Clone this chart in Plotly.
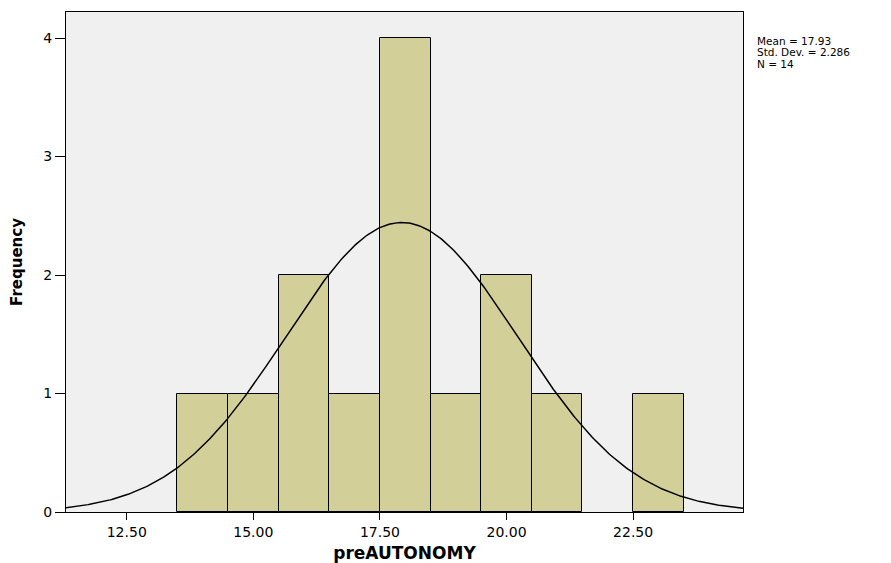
import numpy as np
import plotly.graph_objects as go

# Histogram data (bin centres, width 1)
bin_centers = [14, 15, 16, 17, 18, 19, 20, 21, 23]
frequencies = [1, 1, 2, 1, 4, 1, 2, 1, 1]
bin_width = 1.0

# Summary statistics shown in the chart
mean_val = 17.93
std_val = 2.286
n_val = 14

x_tick_vals = [12.5, 15.0, 17.5, 20.0, 22.5]
x_tick_text = ["12.50", "15.00", "17.50", "20.00", "22.50"]
y_tick_vals = [0, 1, 2, 3, 4]

x_range = [11.3, 24.67]
y_range = [0, 4.22]

# Fitted normal curve (scaled to counts)
xs = np.linspace(x_range[0], x_range[1], 400)
ys = n_val * bin_width * np.exp(-0.5 * ((xs - mean_val) / std_val) ** 2) / (std_val * np.sqrt(2 * np.pi))

fig = go.Figure()
fig.add_trace(go.Bar(
    x=bin_centers, y=frequencies, width=bin_width,
    marker=dict(color="#d3cf99", line=dict(color="black", width=1)),
    hoverinfo="skip", showlegend=False,
))
fig.add_trace(go.Scatter(
    x=xs, y=ys, mode="lines", line=dict(color="black", width=1.5),
    hoverinfo="skip", showlegend=False,
))

font_family = "DejaVu Sans, Arial, sans-serif"

# page body has an 8px default margin, so the figure is sized to fit inside it
fig.update_layout(
    width=883, height=555,
    margin=dict(l=58, r=148, t=4, b=51),
    paper_bgcolor="white", plot_bgcolor="#f0f0f0",
    bargap=0,
    font=dict(family=font_family, color="black", size=13),
    xaxis=dict(
        range=x_range, tickvals=x_tick_vals, ticktext=x_tick_text,
        showgrid=False, zeroline=False, showline=True, linecolor="black", linewidth=1,
        mirror=True, ticks="outside", ticklen=7, tickcolor="black", automargin=False,
        tickfont=dict(size=14, family=font_family),
        title=dict(text="<b>preAUTONOMY</b>", font=dict(size=17, family=font_family), standoff=8),
    ),
    yaxis=dict(
        range=y_range, tickvals=y_tick_vals,
        showgrid=False, zeroline=False, showline=True, linecolor="black", linewidth=1,
        mirror=True, ticks="outside", ticklen=10, tickcolor="black", automargin=False,
        tickfont=dict(size=14, family=font_family),
        title=dict(text="<b>Frequency</b>", font=dict(size=15, family=font_family), standoff=22),
    ),
)

stat_lines = [f"Mean = {mean_val:.2f}", f"Std. Dev. = {std_val:.3f}", f"N = {n_val}"]
for i, txt in enumerate(stat_lines):
    fig.add_annotation(
        text=txt, xref="paper", yref="paper",
        x=(755 - 66) / 677.0, y=(512 - 41 - i * 11.5) / 500.0,
        xanchor="left", yanchor="middle", showarrow=False,
        font=dict(size=10.5, family=font_family, color="black"),
    )

fig.write_html("out.html")
